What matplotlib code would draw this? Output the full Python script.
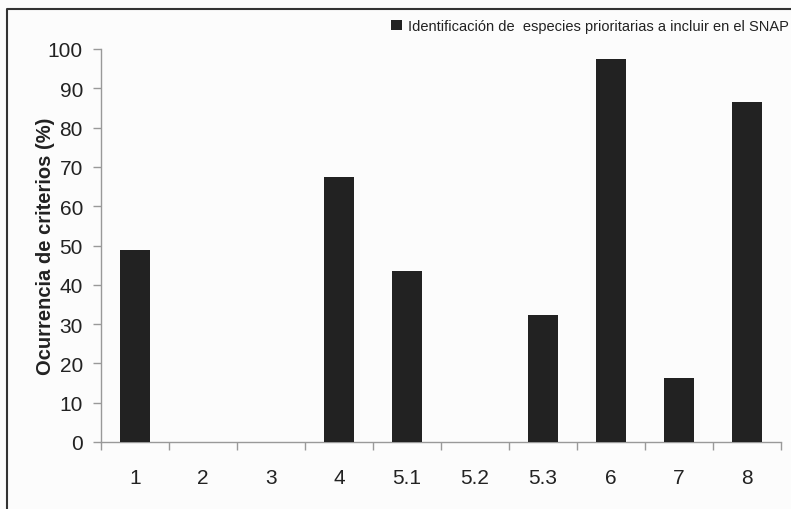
import matplotlib
matplotlib.use("Agg")
import matplotlib.pyplot as plt
from matplotlib import font_manager
from matplotlib.lines import Line2D

categories = ["1", "2", "3", "4", "5.1", "5.2", "5.3", "6", "7", "8"]
values = [48.8, 0, 0, 67.5, 43.5, 0, 32.4, 97.5, 16.4, 86.5]
series_name = "Identificación de  especies prioritarias a incluir en el SNAP"
y_ticks = [0, 10, 20, 30, 40, 50, 60, 70, 80, 90, 100]

names = {f.name for f in font_manager.fontManager.ttflist}
base = "Liberation Sans" if "Liberation Sans" in names else "DejaVu Sans"
has_narrow = "Liberation Sans Narrow" in names
narrow = "Liberation Sans Narrow" if has_narrow else base
plt.rcParams["font.family"] = [base, "DejaVu Sans"]

W, H = 791, 510
fig = plt.figure(figsize=(W / 100, H / 100), dpi=100, facecolor="#fcfcfc")
ax = fig.add_axes([101 / W, 1 - 443 / H, 680 / W, (443 - 50) / H])
ax.set_facecolor("#fcfcfc")

x = list(range(len(categories)))
bars = ax.bar(x, values, width=0.43, color="#222222", label=series_name, zorder=3)

ax.set_xlim(-0.5, len(categories) - 0.5)
ax.set_ylim(0, 100)
ax.set_yticks(y_ticks)
ax.set_yticklabels([str(t) for t in y_ticks])
ax.set_xticks([i + 0.5 for i in range(-1, len(categories))], minor=False)
ax.set_xticklabels([])
ax.set_xticks(x, minor=True)
ax.set_xticklabels(categories, minor=True)
ax.tick_params(axis="x", which="major", length=6, color="#999999", width=1, direction="out")
ax.tick_params(axis="x", which="minor", length=0, pad=19, labelsize=15, labelcolor="#222222")
ax.tick_params(axis="y", length=6, color="#999999", width=1, direction="out", pad=7,
               labelsize=15, labelcolor="#222222")

for s in ["top", "right"]:
    ax.spines[s].set_visible(False)
for s in ["left", "bottom"]:
    ax.spines[s].set_color("#999999")
    ax.spines[s].set_linewidth(1)

ax.set_ylabel("Ocurrencia de criterios (%)", fontsize=17 if has_narrow else 14.5,
              fontweight="bold", color="#222222", family=[narrow, "DejaVu Sans"])
ax.yaxis.set_label_coords(-(101 - 55) / 680, 0.5)

fig.legend(handles=[bars], labels=[series_name], loc="center left",
           bbox_to_anchor=(391 / W, 1 - 27 / H), frameon=False,
           prop={"family": [narrow, "DejaVu Sans"], "size": 12.9 if has_narrow else 10.5},
           handlelength=0.75, handleheight=0.75, handletextpad=0.45, borderpad=0,
           borderaxespad=0, labelcolor="#222222")

fig.add_artist(Line2D([7 / W, 7 / W, 1.0], [0.0, 1 - 10 / H, 1 - 10 / H],
                      transform=fig.transFigure, color="#333333", linewidth=1.5))

fig.savefig("out.png", dpi=100, facecolor=fig.get_facecolor())
